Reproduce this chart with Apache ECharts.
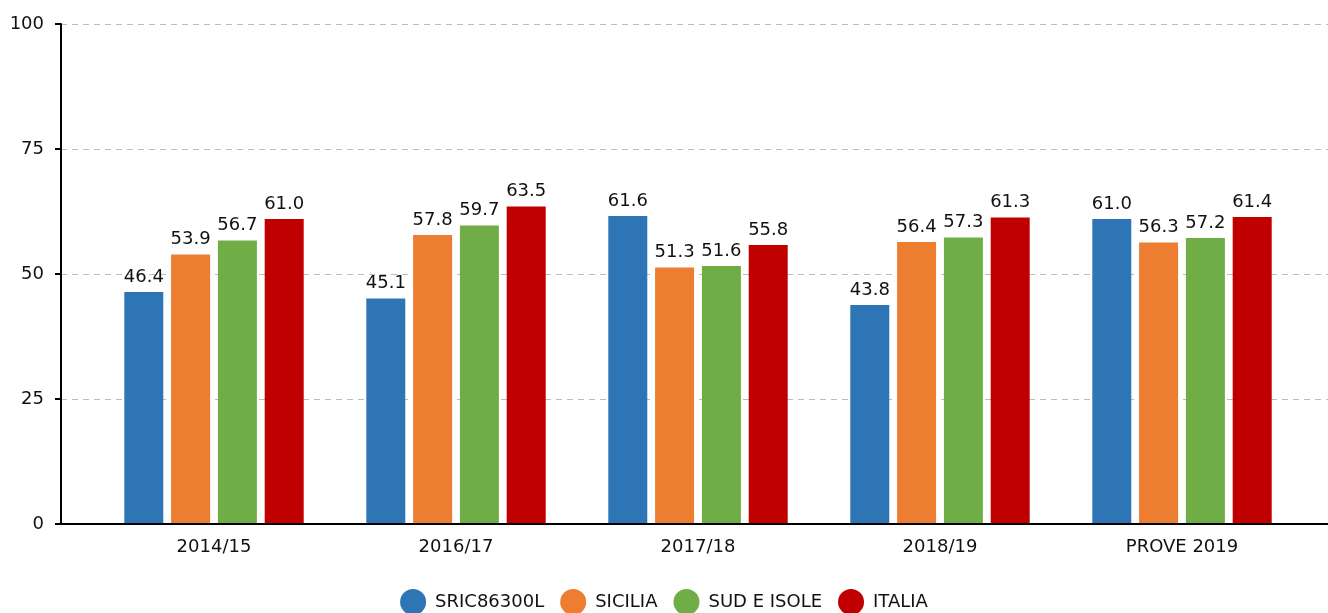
<!DOCTYPE html>
<html lang="it">
<head>
    <meta charset="UTF-8">
    <title>Risultati</title>
    <script src="https://cdn.jsdelivr.net/npm/echarts@6/dist/echarts.min.js"></script>
    <style>
        html, body { margin: 0; padding: 0; background: #fff; }
        #chart { width: 1328px; height: 613px; }
    </style>
</head>
<body>
<div id="chart"></div>
<script>
    var categories = ['2014/15', '2016/17', '2017/18', '2018/19', 'PROVE 2019'];
    var seriesNames = ['SRIC86300L', 'SICILIA', 'SUD E ISOLE', 'ITALIA'];
    var scuola = [46.4, 45.1, 61.6, 43.8, 61.0];
    var sicilia = [53.9, 57.8, 51.3, 56.4, 56.3];
    var sudIsole = [56.7, 59.7, 51.6, 57.3, 57.2];
    var italia = [61.0, 63.5, 55.8, 61.3, 61.4];
    var colors = ['#2e75b6', '#ed7d31', '#70ad47', '#c00000'];

    var font = 'DejaVu Sans';
    var chart = echarts.init(document.getElementById('chart'));

    function barSeries(name, data, color) {
        return {
            name: name,
            type: 'bar',
            xAxisIndex: 0,
            yAxisIndex: 0,
            data: data,
            barWidth: 39,
            barGap: '20%',
            itemStyle: { color: color },
            label: {
                show: true,
                position: 'top',
                distance: 6,
                color: '#111',
                fontFamily: font,
                fontSize: 18,
                formatter: function (p) { return p.value.toFixed(1); }
            }
        };
    }

    var option = {
        animation: false,
        grid: [
            { left: 93, right: 25, top: 24, bottom: 89 },
            { left: 61, right: 0, top: 24, bottom: 89 }
        ],
        legend: {
            data: seriesNames,
            bottom: -7,
            left: 'center',
            icon: 'circle',
            itemWidth: 26,
            itemHeight: 26,
            itemGap: 16,
            textStyle: { fontFamily: font, fontSize: 18, color: '#111', padding: [0, 0, 0, 4] }
        },
        xAxis: [
            {
                type: 'category',
                gridIndex: 0,
                data: categories,
                axisLine: { show: false },
                axisTick: { show: false },
                axisLabel: { fontFamily: font, fontSize: 18, color: '#111', margin: 14 }
            },
            {
                type: 'category',
                gridIndex: 1,
                data: [''],
                axisLine: { show: true, lineStyle: { color: '#000', width: 2 } },
                axisTick: { show: false },
                axisLabel: { show: false },
                z: 5
            }
        ],
        yAxis: [
            {
                type: 'value',
                gridIndex: 0,
                min: 0,
                max: 100,
                interval: 25,
                show: false
            },
            {
                type: 'value',
                gridIndex: 1,
                min: 0,
                max: 100,
                interval: 25,
                axisLine: { show: true, lineStyle: { color: '#000', width: 2 } },
                axisTick: { show: true, length: 6, lineStyle: { color: '#000', width: 2 } },
                axisLabel: { fontFamily: font, fontSize: 18, color: '#111', margin: 17 },
                splitLine: { show: true, lineStyle: { color: '#bdbdbd', type: [6, 5], width: 1 } }
            }
        ],
        series: [
            barSeries(seriesNames[0], scuola, colors[0]),
            barSeries(seriesNames[1], sicilia, colors[1]),
            barSeries(seriesNames[2], sudIsole, colors[2]),
            barSeries(seriesNames[3], italia, colors[3])
        ]
    };

    chart.setOption(option);
</script>
</body>
</html>
